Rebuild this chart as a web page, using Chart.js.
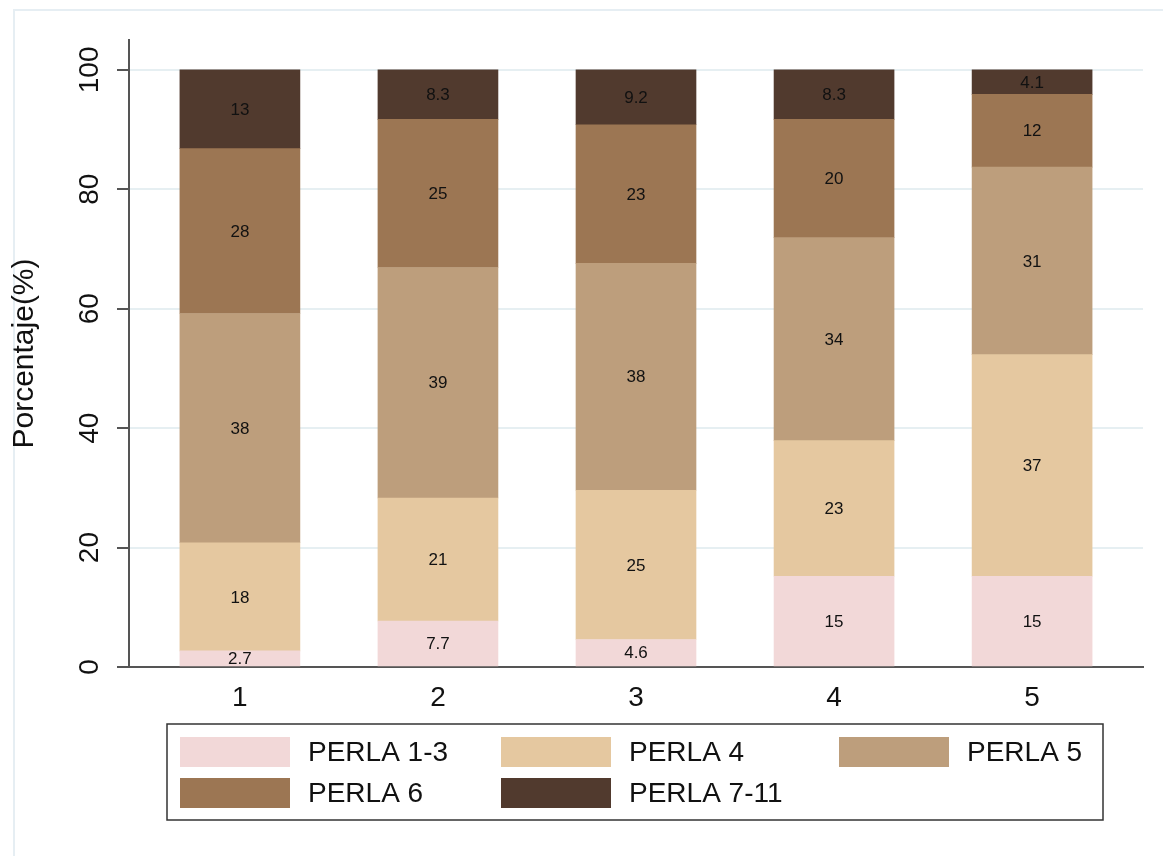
<!DOCTYPE html>
<html>
<head>
<meta charset="utf-8">
<script src="https://cdn.jsdelivr.net/npm/chart.js@4/dist/chart.umd.min.js"></script>
<style>
  html, body { margin: 0; padding: 0; background: #fff; }
  #wrap { width: 1163px; height: 856px; }
</style>
</head>
<body>
<div id="wrap"><canvas id="barChart" width="1163" height="856"></canvas></div>
<script>
// data
var categories = ['1', '2', '3', '4', '5'];
var seriesNames = ['PERLA 1-3', 'PERLA 4', 'PERLA 5', 'PERLA 6', 'PERLA 7-11'];
var perla13 = [2.7, 7.7, 4.6, 15.2, 15.2];
var perla4 = [18.1, 20.6, 25.0, 22.7, 37.1];
var perla5 = [38.4, 38.6, 38.0, 34.0, 31.4];
var perla6 = [27.6, 24.8, 23.2, 19.8, 12.2];
var perla711 = [13.2, 8.3, 9.2, 8.3, 4.1];
var yTicks = [0, 20, 40, 60, 80, 100];
var yTitle = 'Porcentaje(%)';

var colorArray = ['#f2d8d8', '#e5c8a0', '#bd9e7c', '#9c7653', '#513a2e'];
var fontFam = '"Liberation Sans", Arial, Helvetica, sans-serif';

var allSeries = [perla13, perla4, perla5, perla6, perla711];
var datasets = allSeries.map(function (arr, i) {
  return {
    label: seriesNames[i],
    backgroundColor: colorArray[i],
    borderWidth: 0,
    barThickness: 120,
    data: arr.map(function (v, j) { return { x: j + 1, y: v }; })
  };
});

function fmt(v) {
  return String(Number(v.toPrecision(2)));
}

// white background + faint outer frame
var bgPlugin = {
  id: 'bg',
  beforeDraw: function (chart) {
    var c = chart.ctx;
    c.save();
    c.fillStyle = '#fff';
    c.fillRect(0, 0, chart.width, chart.height);
    c.strokeStyle = '#e6eef3';
    c.lineWidth = 2;
    c.strokeRect(14, 10, chart.width + 20, chart.height + 20);
    c.restore();
  }
};

// numbers inside the segments
var labelPlugin = {
  id: 'segLabels',
  afterDatasetsDraw: function (chart) {
    var c = chart.ctx;
    c.save();
    c.font = '17px ' + fontFam;
    c.fillStyle = '#111';
    c.textAlign = 'center';
    c.textBaseline = 'middle';
    chart.data.datasets.forEach(function (ds, i) {
      var meta = chart.getDatasetMeta(i);
      meta.data.forEach(function (bar, j) {
        var p = bar.getCenterPoint();
        c.fillText(fmt(ds.data[j].y), p.x, p.y + 1);
      });
    });
    c.restore();
  }
};

// rotated y tick labels
var yLabelPlugin = {
  id: 'yLabels',
  afterDraw: function (chart) {
    var c = chart.ctx;
    var ys = chart.scales.y;
    c.save();
    c.font = '28px ' + fontFam;
    c.fillStyle = '#111';
    c.textAlign = 'center';
    c.textBaseline = 'middle';
    yTicks.forEach(function (t) {
      c.save();
      c.translate(90, ys.getPixelForValue(t));
      c.rotate(-Math.PI / 2);
      c.fillText(String(t), 0, 0);
      c.restore();
    });
    c.restore();
  }
};

// boxed legend, 3 columns
var legendPlugin = {
  id: 'boxLegend',
  afterDraw: function (chart) {
    var c = chart.ctx;
    var colX = [180, 501, 839];
    var rowY = [737, 778];
    c.save();
    c.strokeStyle = '#333';
    c.lineWidth = 1.5;
    c.strokeRect(167, 724, 936, 96);
    c.font = '28px ' + fontFam;
    c.fillStyle = '#111';
    c.textBaseline = 'middle';
    c.textAlign = 'left';
    chart.data.datasets.forEach(function (ds, i) {
      var x = colX[i % 3];
      var y = rowY[Math.floor(i / 3)];
      c.fillStyle = ds.backgroundColor;
      c.fillRect(x, y, 110, 30);
      c.fillStyle = '#111';
      c.fillText(ds.label, x + 128, y + 16);
    });
    c.restore();
  }
};

var ctx2 = document.getElementById('barChart').getContext('2d');
var chart = new Chart(ctx2, {
  type: 'bar',
  data: { datasets: datasets },
  options: {
    responsive: false,
    animation: false,
    layout: { padding: { left: 3, right: 20, top: 40, bottom: 139 } },
    plugins: { legend: { display: false }, tooltip: { enabled: false } },
    scales: {
      x: {
        type: 'linear',
        stacked: true,
        offset: false,
        min: 0.44,
        max: 5.56,
        afterBuildTicks: function (s) {
          s.ticks = categories.map(function (c, i) { return { value: i + 1 }; });
        },
        afterFit: function (s) { s.height = 50; },
        grid: { display: false, drawTicks: false },
        border: { display: true, color: '#555', width: 2 },
        ticks: {
          padding: 14,
          color: '#111',
          font: { family: fontFam, size: 28 },
          callback: function (v) { return categories[v - 1]; }
        }
      },
      y: {
        stacked: true,
        min: 0,
        max: 105,
        afterBuildTicks: function (s) {
          s.ticks = yTicks.map(function (t) { return { value: t }; });
        },
        afterFit: function (s) { s.width = 126; },
        grid: { color: '#e6eff2', lineWidth: 2, tickColor: '#555', tickLength: 12, tickWidth: 2 },
        border: { display: true, color: '#555', width: 2 },
        ticks: { display: false },
        title: {
          display: true,
          text: yTitle,
          color: '#111',
          font: { family: fontFam, size: 30 },
          padding: { top: 4, bottom: 0 }
        }
      }
    }
  },
  plugins: [bgPlugin, labelPlugin, yLabelPlugin, legendPlugin]
});
</script>
</body>
</html>
